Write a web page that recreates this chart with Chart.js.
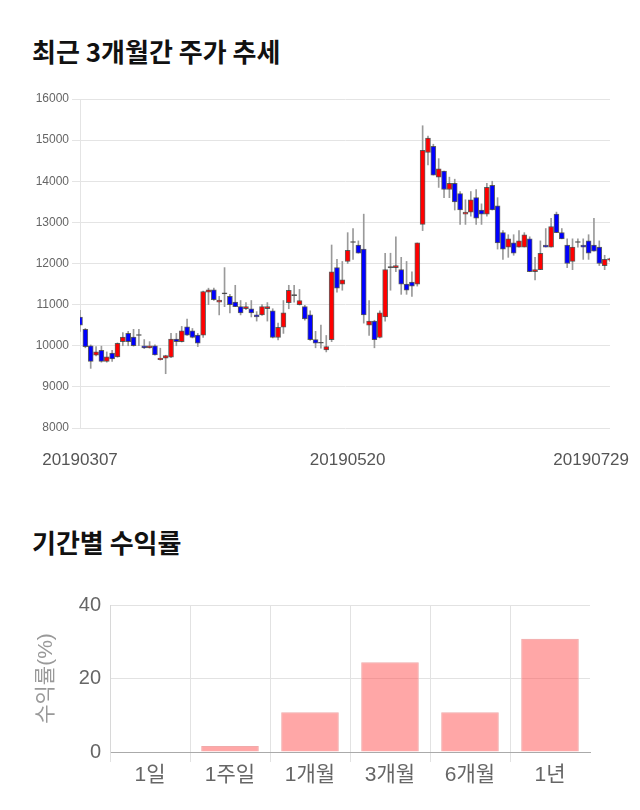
<!DOCTYPE html>
<html>
<head>
<meta charset="utf-8">
<script src="https://cdn.jsdelivr.net/npm/chart.js@4.4.1/dist/chart.umd.min.js"></script>
<style>
  body { margin: 0; background: #fff; width: 640px; height: 810px; position: relative; overflow: hidden; }
  h2 { position: absolute; left: 32px; margin: 0; font: bold 26px/1 "Noto Sans CJK KR", sans-serif; color: #111; }
  #t1 { top: 38px; }
  #t2 { top: 529px; }
  canvas { position: absolute; left: 0; }
  #c1 { top: 85px; }
  #c2 { top: 590px; }
</style>
</head>
<body>
<h2 id="t1">최근 3개월간 주가 추세</h2>
<h2 id="t2">기간별 수익률</h2>
<canvas id="c1" width="640" height="395"></canvas>
<canvas id="c2" width="640" height="210"></canvas>
<script>
// trading days 2019-03-07 .. 2019-07-29
const dates = [
  '20190307','20190308','20190311','20190312','20190313','20190314','20190315','20190318','20190319','20190320',
  '20190321','20190322','20190325','20190326','20190327','20190328','20190329','20190401','20190402','20190403',
  '20190404','20190405','20190408','20190409','20190410','20190411','20190412','20190415','20190416','20190417',
  '20190418','20190419','20190422','20190423','20190424','20190425','20190426','20190429','20190430','20190502',
  '20190503','20190507','20190508','20190509','20190510','20190513','20190514','20190515','20190516','20190517',
  '20190520','20190521','20190522','20190523','20190524','20190527','20190528','20190529','20190530','20190531',
  '20190603','20190604','20190605','20190607','20190610','20190611','20190612','20190613','20190614','20190617',
  '20190618','20190619','20190620','20190621','20190624','20190625','20190626','20190627','20190628','20190701',
  '20190702','20190703','20190704','20190705','20190708','20190709','20190710','20190711','20190712','20190715',
  '20190716','20190717','20190718','20190719','20190722','20190723','20190724','20190725','20190726','20190729'
];
const shownDates = ['20190307', '20190520', '20190729'];

const opens = [
  10700,10400,10000,9770,9890,9620,9820,9730,10100,10300,
  10210,10250,10000,9950,10000,9660,9700,9720,10160,10100,
  10460,10360,10260,10260,11300,11360,11060,11260,11200,11060,
  10950,10900,10900,10750,10750,10900,10850,10200,10450,11050,
  11220,11000,10950,10750,10150,10060,9900,10150,11900,11500,
  12050,12510,12450,12350,10500,10600,10200,10700,11900,11900,
  11850,11500,11550,11500,12950,14700,14850,14100,14250,13800,
  13950,13700,13200,13250,13600,13300,13200,13900,13400,12750,
  12400,12500,12400,12400,12600,11800,11850,12450,12400,13200,
  12750,12450,12050,12510,12450,12550,12450,12400,11950,12080
];
const highs = [
  10860,10420,10020,9980,9990,9850,9890,10070,10320,10350,
  10400,10400,10150,10100,10020,9940,9770,10300,10300,10470,
  10650,10420,10300,11330,11400,11400,11200,11900,11250,11470,
  11100,11050,11100,10830,11000,11050,10900,10550,11100,11470,
  11470,11370,10980,10850,10350,10500,10250,12450,12100,12050,
  12750,12850,12550,13200,11100,10620,10850,12250,12250,12650,
  12150,12050,11800,12500,15350,15100,14900,14550,14250,14100,
  14050,13750,13550,13750,13800,13450,13950,14000,13600,12800,
  12700,12700,12800,12750,12650,12150,12550,12850,13100,13250,
  12850,12600,12600,12600,12600,12700,13100,12550,12200,12130
];
const lows = [
  10350,9950,9450,9750,9600,9600,9620,9720,10000,10000,
  9990,10000,9930,9940,9770,9650,9320,9710,10000,10090,
  10250,10190,9980,10200,11000,11100,10750,10950,10800,10950,
  10750,10880,10700,10600,10740,10600,10190,10140,10300,10900,
  11060,10990,10620,10130,9950,9940,9850,10100,11300,11350,
  12000,12100,12250,10550,10250,9950,10190,10600,11350,11800,
  11250,11250,11200,11450,12800,14400,14150,13850,13600,13600,
  13300,12950,12950,13150,12950,12950,13150,13300,12350,12100,
  12150,12200,12400,12400,11800,11600,11850,12400,12400,12750,
  12600,11900,11850,12400,12100,12100,12300,11950,11850,12050
];
const closes = [
  10500,9980,9620,9850,9620,9730,9680,10060,10210,10100,
  10000,10250,9950,10000,9780,9700,9760,10160,10100,10360,
  10260,10200,10060,11320,11360,11120,11110,11260,11000,10950,
  10800,10950,10800,10700,10950,10950,10200,10450,10800,11350,
  11220,11100,10650,10150,10060,10060,9980,11800,11400,11600,
  12320,12510,12250,10750,10600,10150,10800,11850,11900,11950,
  11500,11350,11450,12500,14750,15050,14150,14300,13800,13950,
  13500,13300,13250,13550,13100,13200,13850,13300,12500,12350,
  12600,12250,12550,12700,11800,11850,12250,12400,12900,12750,
  12600,12000,12400,12510,12400,12250,12300,12000,12100,12120
];

const periods = ['1일', '1주일', '1개월', '3개월', '6개월', '1년'];
const returns = [0, 1.6, 10.8, 24.4, 10.8, 30.8];

const latin = '"Liberation Sans", "Noto Sans CJK KR", sans-serif';

// candle colours: red up, blue down, dark for doji
const bodyColors = opens.map((o, i) => closes[i] > o ? '#ff0000' : closes[i] < o ? '#0000ff' : '#333');

// only a few dates are written under the candle chart, kept inside the canvas
const dateLabels = {
  id: 'dateLabels',
  afterDraw(chart) {
    const { ctx, chartArea } = chart;
    const x = chart.scales.x;
    ctx.save();
    ctx.font = '17px ' + latin;
    ctx.fillStyle = '#555';
    ctx.textBaseline = 'middle';
    ctx.textAlign = 'left';
    shownDates.forEach(d => {
      const w = ctx.measureText(d).width;
      let left = x.getPixelForValue(dates.indexOf(d)) - w / 2;
      left = Math.min(Math.max(left, 0), chart.width - w - 11);
      ctx.fillText(d, left, chartArea.bottom + 32);
    });
    ctx.restore();
  }
};

// fixed axis boxes so the plot areas land where the reference has them
const fixBox = (w, h) => s => {
  if (w !== null) s.width = w;
  if (h !== null) s.height = h;
  s.paddingTop = 0;
  s.paddingBottom = 0;
  s.paddingLeft = 0;
  s.paddingRight = 0;
};

new Chart(document.getElementById('c1'), {
  type: 'bar',
  data: {
    labels: dates,
    datasets: [
      {
        data: lows.map((l, i) => [l, highs[i]]),
        backgroundColor: '#9a9a9a',
        barThickness: 1,
        grouped: false,
        order: 2,
        clip: 0
      },
      {
        data: opens.map((o, i) => [o, closes[i]]),
        backgroundColor: bodyColors,
        borderColor: 'rgba(45,45,45,0.75)',
        borderWidth: 1,
        borderSkipped: false,
        barThickness: 5,
        minBarLength: 1,
        grouped: false,
        order: 1,
        clip: 0
      }
    ]
  },
  options: {
    responsive: false,
    animation: false,
    layout: { padding: { top: 14, right: 30, left: 0, bottom: 0 } },
    plugins: { legend: { display: false }, tooltip: { enabled: false } },
    scales: {
      x: {
        offset: false,
        grid: { display: false },
        border: { display: false },
        ticks: { display: false },
        afterFit: fixBox(null, 52)
      },
      y: {
        min: 8000,
        max: 16000,
        ticks: { stepSize: 1000, color: '#666', font: { size: 12, family: latin }, padding: 3, callback: v => String(v) },
        grid: { color: '#e4e4e4', tickLength: 8 },
        border: { color: '#e4e4e4' },
        afterFit: fixBox(80, null)
      }
    }
  },
  plugins: [dateLabels]
});

new Chart(document.getElementById('c2'), {
  type: 'bar',
  data: {
    labels: periods,
    datasets: [{
      data: returns,
      backgroundColor: 'rgba(255,80,80,0.5)',
      borderColor: 'rgba(240,170,170,1)',
      borderWidth: 1
    }]
  },
  options: {
    responsive: false,
    animation: false,
    layout: { padding: { top: 15, right: 50, left: 0, bottom: 0 } },
    plugins: { legend: { display: false }, tooltip: { enabled: false } },
    scales: {
      x: {
        grid: { color: c => c.type === 'tick' ? '#e2e2e2' : 'rgba(0,0,0,0)', tickLength: 10 },
        border: { color: '#aaa' },
        ticks: { color: '#666', font: { size: 21, family: latin }, padding: 1 },
        afterFit: fixBox(null, 48)
      },
      y: {
        min: 0,
        max: 40,
        ticks: { stepSize: 20, color: '#666', font: { size: 20, family: latin }, padding: 9 },
        grid: { drawTicks: false, color: '#e2e2e2' },
        border: { color: '#d8d8d8' },
        title: { display: true, text: '수익률(%)', color: '#999', font: { size: 21, family: latin }, padding: { top: 34, bottom: 0 } },
        afterFit: fixBox(110, null)
      }
    }
  }
});
</script>
</body>
</html>
